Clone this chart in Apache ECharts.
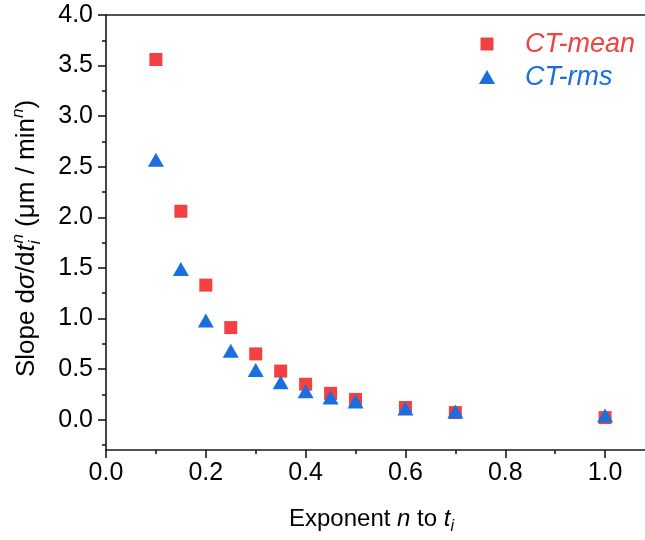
<!DOCTYPE html>
<html>
<head>
<meta charset="utf-8">
<script src="https://cdn.jsdelivr.net/npm/echarts@6/dist/echarts.min.js"></script>
<style>
  html, body { margin: 0; padding: 0; background: #fff; }
  #chart { width: 645px; height: 540px; }
</style>
</head>
<body>
<div id="chart"></div>
<script>
// Slope of the stress evolution vs. exponent n
const exponents = [0.1, 0.15, 0.2, 0.25, 0.3, 0.35, 0.4, 0.45, 0.5, 0.6, 0.7, 1.0];
const ctMean = [3.56, 2.06, 1.33, 0.91, 0.65, 0.48, 0.35, 0.26, 0.20, 0.12, 0.07, 0.02];
const ctRms = [2.57, 1.49, 0.98, 0.68, 0.49, 0.37, 0.28, 0.22, 0.18, 0.11, 0.08, 0.04];

const xMajorTicks = [0, 0.2, 0.4, 0.6, 0.8, 1.0];
const xMinorTicks = [0.1, 0.3, 0.5, 0.7, 0.9];
const yMajorTicks = [0, 0.5, 1.0, 1.5, 2.0, 2.5, 3.0, 3.5, 4.0];
const yMinorTicks = [-0.25, 0.25, 0.75, 1.25, 1.75, 2.25, 2.75, 3.25, 3.75];

const FONT = '"Liberation Sans", Arial, Helvetica, sans-serif';
const AXIS_COLOR = '#1a1a1a';
const RED = '#F34141';
const BLUE = '#1A6FDD';
const FS = 25;

const X_MIN = 0, X_MAX = 1.08;
const Y_MIN = -0.3, Y_MAX = 4.0;

const lineStyle = { color: AXIS_COLOR, width: 1.6 };

function richSet(fs, ss) {
  return {
    r: { fontSize: fs, fontFamily: FONT, color: '#000', lineHeight: fs + 8 },
    it: { fontSize: fs, fontFamily: FONT, fontStyle: 'italic', color: '#000', lineHeight: fs + 8 },
    sub: { fontSize: ss, fontFamily: FONT, fontStyle: 'italic', color: '#000', lineHeight: ss, verticalAlign: 'bottom' },
    sup: { fontSize: ss, fontFamily: FONT, fontStyle: 'italic', color: '#000', lineHeight: ss, verticalAlign: 'top' },
    supStack: { fontSize: ss, fontFamily: FONT, fontStyle: 'italic', color: '#000', lineHeight: ss, verticalAlign: 'top', padding: [0, 0, 0, -3] }
  };
}

function legendFor(name, color, size, iconCenterX, iconCenterY) {
  // one legend block per series so each icon keeps its own marker shape
  return {
    orient: 'vertical',
    left: iconCenterX - size[0] / 2,
    top: iconCenterY - 15,
    itemWidth: size[0], itemHeight: size[1],
    padding: 0,
    textStyle: {
      fontSize: 27, fontFamily: FONT, fontStyle: 'italic', color,
      lineHeight: 30, padding: [0, 0, 0, 525 - (iconCenterX + size[0] / 2 + 5)]
    },
    itemStyle: { opacity: 1 },
    data: [{ name, textStyle: { color } }]
  };
}

const option = {
  animation: false,
  backgroundColor: '#fff',
  grid: { left: 106, top: 15, right: 0, bottom: 88.5, containLabel: false },
  legend: [
    legendFor('CT-mean', RED, [13, 13], 487, 44),
    legendFor('CT-rms', BLUE, [16, 14], 487, 77)
  ],
  xAxis: [
    {
      type: 'value', min: X_MIN, max: X_MAX, position: 'bottom',
      axisLine: { show: true, onZero: false, lineStyle },
      axisTick: { show: true, inside: false, length: 8, lineStyle, customValues: xMajorTicks },
      axisLabel: {
        show: true, customValues: xMajorTicks, margin: 11,
        fontSize: FS, fontFamily: FONT, color: '#000',
        formatter: v => v.toFixed(1)
      },
      splitLine: { show: false },
      name: '{r|Exponent }{it|n}{r| to }{it|t}{sub|i}',
      nameLocation: 'middle', nameGap: 53,
      nameTextStyle: { rich: richSet(24, 16), padding: [0, 8, 0, 0] }
    },
    {
      type: 'value', min: X_MIN, max: X_MAX, position: 'bottom',
      axisLine: { show: false, onZero: false },
      axisTick: { show: true, inside: false, length: 4, lineStyle, customValues: xMinorTicks },
      axisLabel: { show: false },
      splitLine: { show: false }
    },
    {
      type: 'value', min: X_MIN, max: X_MAX, position: 'top',
      axisLine: { show: true, onZero: false, lineStyle },
      axisTick: { show: false }, axisLabel: { show: false }, splitLine: { show: false }
    }
  ],
  yAxis: [
    {
      type: 'value', min: Y_MIN, max: Y_MAX, position: 'left',
      axisLine: { show: true, onZero: false, lineStyle },
      axisTick: { show: true, inside: false, length: 8, lineStyle, customValues: yMajorTicks },
      axisLabel: {
        show: true, customValues: yMajorTicks, margin: 13,
        fontSize: FS, fontFamily: FONT, color: '#000',
        formatter: v => v.toFixed(1)
      },
      splitLine: { show: false },
      name: '{r|Slope d}{it|σ}{r|/d}{it|t}{sub|i}{supStack|n}{r| (μm / min}{sup|n}{r|)}',
      nameLocation: 'middle', nameRotate: 90, nameGap: 62,
      nameTextStyle: { rich: richSet(26, 17), padding: [0, 12, 0, 0] }
    },
    {
      type: 'value', min: Y_MIN, max: Y_MAX, position: 'left',
      axisLine: { show: false, onZero: false },
      axisTick: { show: true, inside: false, length: 4, lineStyle, customValues: yMinorTicks },
      axisLabel: { show: false },
      splitLine: { show: false }
    }
  ],
  series: [
    {
      name: 'CT-mean', type: 'scatter', xAxisIndex: 0, yAxisIndex: 0,
      symbol: 'rect', symbolSize: 13,
      itemStyle: { color: RED, opacity: 1 },
      data: exponents.map((x, i) => [x, ctMean[i]]),
      z: 2
    },
    {
      name: 'CT-rms', type: 'scatter', xAxisIndex: 0, yAxisIndex: 0,
      symbol: 'triangle', symbolSize: [16, 14],
      itemStyle: { color: BLUE, opacity: 1 },
      data: exponents.map((x, i) => [x, ctRms[i]]),
      z: 3
    }
  ]
};

const chart = echarts.init(document.getElementById('chart'), null, { renderer: 'canvas' });
chart.setOption(option);
</script>
</body>
</html>
